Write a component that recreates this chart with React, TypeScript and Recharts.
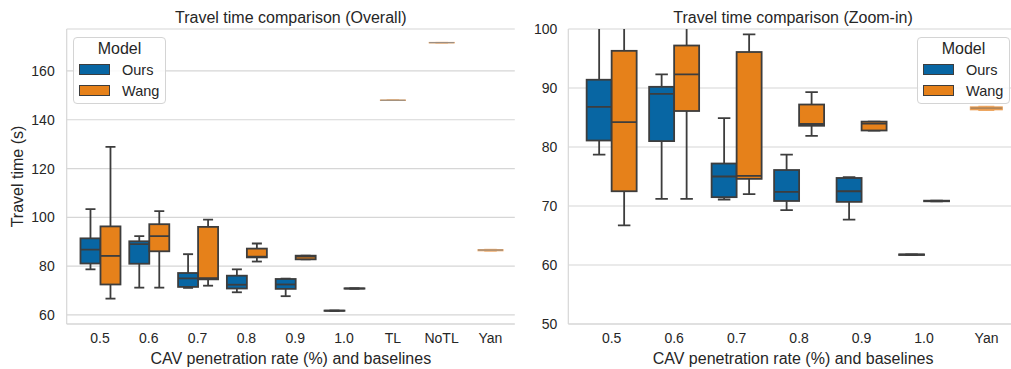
import React from "react";
import { ComposedChart, Bar, XAxis, YAxis, CartesianGrid, Label } from "recharts";

const rateCats = ["0.5", "0.6", "0.7", "0.8", "0.9", "1.0"];
const baseCats = ["TL", "NoTL", "Yan"];

// box stats per category: [min, q1, median, q3, max]
const oursStats = [
  [78.7, 81.1, 86.8, 91.4, 103.4],
  [71.2, 81.0, 89.0, 90.2, 92.3],
  [71.1, 71.5, 75.0, 77.2, 84.9],
  [69.3, 70.85, 72.4, 76.1, 78.7],
  [67.7, 70.7, 72.5, 74.75, 74.9],
  [61.7, 61.7, 61.75, 61.8, 61.8],
];
const wangStats = [
  [66.7, 72.5, 84.2, 96.3, 128.9],
  [71.2, 86.1, 92.3, 97.2, 102.6],
  [72.0, 74.6, 75.1, 96.1, 99.1],
  [81.9, 83.6, 83.9, 87.2, 89.3],
  [82.8, 82.8, 83.95, 84.3, 84.3],
  [70.8, 70.8, 70.85, 70.9, 70.9],
];
const baseStats = [
  [147.9, 147.9, 148.0, 148.1, 148.1],
  [171.5, 171.5, 171.6, 171.7, 171.7],
  [86.2, 86.3, 86.6, 86.8, 86.9],
];

const overallTicks = [60, 80, 100, 120, 140, 160];
const zoomTicks = [50, 60, 70, 80, 90, 100];
const seriesNames = ["Ours", "Wang"];

const BLUE = "#0866a3";
const ORANGE = "#e6811a";
const EDGE = "#3d3d3d";
const GRID = "#d6d6d6";
const TEXT = "#262626";

function buildRows(cats: string[]) {
  return cats.map((cat) => {
    const ri = rateCats.indexOf(cat);
    const bi = baseCats.indexOf(cat);
    return {
      cat,
      ours: ri >= 0 ? oursStats[ri] : null,
      wang: ri >= 0 ? wangStats[ri] : null,
      base: bi >= 0 ? baseStats[bi] : null,
    };
  });
}

const range = (key: string) => (r: any) => (r[key] ? [r[key][0], r[key][4]] : null);

function boxShape(key: string, fill: string, edge: string, mid: string, lw: number) {
  return (props: any) => {
    const s = props.payload?.[key];
    if (!s || !isFinite(props.y) || !isFinite(props.height)) return <g />;
    const [lo, q1, med, q3, hi] = s;
    const top = Math.min(props.y, props.y + props.height);
    const k = Math.abs(props.height) / (hi - lo);
    const py = (v: number) => top + (hi - v) * k;
    const cx = props.x + props.width / 2;
    const c1 = props.x + props.width * 0.25;
    const c2 = props.x + props.width * 0.75;
    return (
      <g>
        <line x1={cx} x2={cx} y1={py(hi)} y2={py(q3)} stroke={edge} strokeWidth={lw} />
        <line x1={cx} x2={cx} y1={py(q1)} y2={py(lo)} stroke={edge} strokeWidth={lw} />
        <line x1={c1} x2={c2} y1={py(hi)} y2={py(hi)} stroke={edge} strokeWidth={lw} />
        <line x1={c1} x2={c2} y1={py(lo)} y2={py(lo)} stroke={edge} strokeWidth={lw} />
        <rect
          x={props.x}
          y={py(q3)}
          width={props.width}
          height={Math.max(py(q1) - py(q3), 0)}
          fill={fill}
          stroke={edge}
          strokeWidth={lw}
        />
        <line x1={props.x} x2={props.x + props.width} y1={py(med)} y2={py(med)} stroke={mid} strokeWidth={lw} />
      </g>
    );
  };
}

function ModelLegend({ left, top }: { left: number; top: number }) {
  const colors = [BLUE, ORANGE];
  return (
    <div
      style={{
        position: "absolute",
        left,
        top,
        width: 93,
        height: 67,
        boxSizing: "border-box",
        border: "1px solid #d4d4d4",
        borderRadius: 4,
        background: "rgba(255,255,255,0.85)",
        color: TEXT,
      }}
    >
      <div style={{ position: "absolute", top: 2, width: "100%", textAlign: "center", fontSize: 16, lineHeight: "18px" }}>
        Model
      </div>
      {seriesNames.map((name, i) => (
        <React.Fragment key={name}>
          <div
            style={{
              position: "absolute",
              left: 5,
              top: 26 + i * 21,
              width: 31,
              height: 11,
              boxSizing: "border-box",
              background: colors[i],
              border: `1px solid ${EDGE}`,
            }}
          />
          <div style={{ position: "absolute", left: 48, top: 24 + i * 21, fontSize: 14.5, lineHeight: "16px" }}>{name}</div>
        </React.Fragment>
      ))}
    </div>
  );
}

function Title({ text, center }: { text: string; center: number }) {
  return (
    <div
      style={{
        position: "absolute",
        left: center - 200,
        width: 400,
        top: 8.5,
        textAlign: "center",
        fontSize: 16,
        lineHeight: "18px",
        color: TEXT,
        whiteSpace: "nowrap",
      }}
    >
      {text}
    </div>
  );
}

interface PanelProps {
  cats: string[];
  domain: [number, number];
  ticks: number[];
  width: number;
  marginLeft: number;
  yWidth: number;
  padLeft: number;
  baseSize: number;
  tickMargin: number;
  yLabel?: string;
}

function Panel({ cats, domain, ticks, width, marginLeft, yWidth, padLeft, baseSize, tickMargin, yLabel }: PanelProps) {
  const rows = buildRows(cats);
  const pad = { left: padLeft, right: 0 };
  return (
    <ComposedChart
      width={width}
      height={369}
      data={rows}
      margin={{ top: 29, right: 5.2, bottom: 0, left: marginLeft }}
      barCategoryGap="10%"
      barGap={0}
    >
      <CartesianGrid vertical={false} stroke={GRID} strokeWidth={1.2} />
      <XAxis
        dataKey="cat"
        height={45}
        padding={pad}
        tickLine={false}
        tickSize={0}
        tickMargin={9}
        axisLine={{ stroke: GRID, strokeWidth: 1.2 }}
        tick={{ fill: TEXT, fontSize: 14 }}
        interval={0}
      >
        <Label value="CAV penetration rate (%) and baselines" position="insideBottom" offset={5} fontSize={16} fill={TEXT} />
      </XAxis>
      <XAxis xAxisId="base" dataKey="cat" hide padding={pad} />
      <XAxis
        xAxisId="top"
        dataKey="cat"
        orientation="top"
        height={0}
        padding={pad}
        tick={false}
        tickLine={false}
        axisLine={{ stroke: GRID, strokeWidth: 1.2 }}
      />
      <YAxis
        type="number"
        domain={domain}
        ticks={ticks}
        allowDataOverflow
        width={yWidth}
        tickLine={false}
        tickSize={0}
        tickMargin={tickMargin}
        axisLine={{ stroke: GRID, strokeWidth: 1.2 }}
        tick={{ fill: TEXT, fontSize: 14 }}
      >
        {yLabel && (
          <Label
            content={(p: any) => {
              const vb = p.viewBox;
              const x = vb.x + 10.3;
              const y = vb.y + vb.height / 2;
              return (
                <text
                  x={x}
                  y={y}
                  transform={`rotate(-90 ${x} ${y})`}
                  textAnchor="middle"
                  dominantBaseline="central"
                  fontSize={16}
                  fill={TEXT}
                >
                  {yLabel}
                </text>
              );
            }}
          />
        )}
      </YAxis>
      <YAxis
        yAxisId="r"
        orientation="right"
        type="number"
        domain={domain}
        allowDataOverflow
        width={0}
        tick={false}
        tickLine={false}
        axisLine={{ stroke: GRID, strokeWidth: 1.2 }}
      />
      <Bar dataKey={range("ours")} name="Ours" shape={boxShape("ours", BLUE, EDGE, EDGE, 1.8)} isAnimationActive={false} />
      <Bar dataKey={range("wang")} name="Wang" shape={boxShape("wang", ORANGE, EDGE, EDGE, 1.8)} isAnimationActive={false} />
      <Bar
        xAxisId="base"
        dataKey={range("base")}
        name="Baseline"
        barSize={baseSize}
        shape={boxShape("base", ORANGE, "#eda25a", "#8c8c8c", 1)}
        isAnimationActive={false}
      />
    </ComposedChart>
  );
}

export default function App() {
  return (
    <div
      style={{
        position: "absolute",
        left: 0,
        top: 0,
        width: 1011,
        height: 369,
        overflow: "hidden",
        background: "#fff",
        fontFamily: "'Liberation Sans', Arial, sans-serif",
      }}
    >
      <div style={{ position: "absolute", left: 0, top: 0 }}>
        <Panel
          cats={[...rateCats, ...baseCats]}
          domain={[56.3, 177.2]}
          ticks={overallTicks}
          width={520}
          marginLeft={6.7}
          yWidth={60}
          padLeft={8.9}
          baseSize={25}
          tickMargin={12}
          yLabel="Travel time (s)"
        />
      </div>
      <div style={{ position: "absolute", left: 510, top: 0 }}>
        <Panel
          cats={[...rateCats, "Yan"]}
          domain={[50, 100]}
          ticks={zoomTicks}
          width={513}
          marginLeft={6.3}
          yWidth={52}
          padLeft={12.1}
          baseSize={32}
          tickMargin={11}
        />
      </div>
      <Title text="Travel time comparison (Overall)" center={290.8} />
      <Title text="Travel time comparison (Zoom-in)" center={793} />
      <ModelLegend left={73} top={37} />
      <ModelLegend left={917} top={37} />
    </div>
  );
}
